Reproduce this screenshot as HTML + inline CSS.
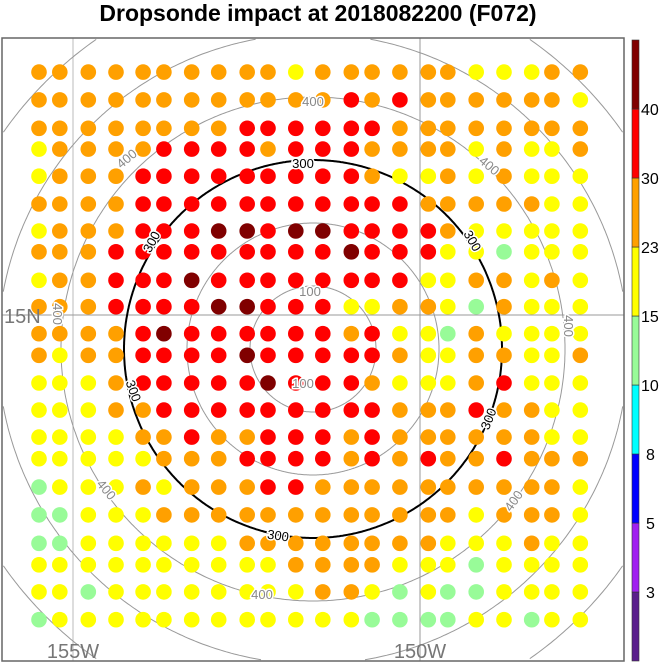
<!DOCTYPE html>
<html><head><meta charset="utf-8">
<style>
html,body{margin:0;padding:0;background:#fff;overflow:hidden;width:662px;height:664px;position:relative;}
svg{display:block;position:absolute;left:0;top:0;overflow:hidden;font-family:"Liberation Sans",sans-serif;}
</style></head>
<body>
<svg id="chart" width="662" height="664" viewBox="0 0 662 664" xmlns="http://www.w3.org/2000/svg">
<text x="318" y="21" text-anchor="middle" font-size="23" font-weight="bold" fill="#000">Dropsonde impact at 2018082200 (F072)</text>
<g id="plot">
  <line x1="73" y1="38" x2="73" y2="661" stroke="#bbb" stroke-width="1"/>
  <line x1="420" y1="38" x2="420" y2="661" stroke="#999" stroke-width="1"/>
  <line x1="2" y1="315" x2="624" y2="315" stroke="#999" stroke-width="1"/>
  <g id="rings"></g>
  <g id="dots"></g>
  <g id="labels" font-size="13" text-anchor="middle"></g>
</g>
<rect x="2" y="38" width="622" height="623" fill="none" stroke="#666" stroke-width="1.5"/>
<text x="4" y="323" font-size="20" fill="#777">15N</text>
<text x="73" y="658" font-size="20" fill="#777" text-anchor="middle">155W</text>
<text x="420" y="658" font-size="20" fill="#777" text-anchor="middle">150W</text>
<g id="colorbar"></g>
</svg>
<script>
const NS="http://www.w3.org/2000/svg";
// grid longitudes (deg E) and latitudes (deg N)
const lons=[-155.49,-155.19,-154.78,-154.38,-153.99,-153.69,-153.29,-152.90,-152.49,-152.19,-151.79,-151.40,-150.99,-150.69,-150.29,-149.88,-149.60,-149.19,-148.79,-148.39,-148.10,-147.69];
const lats=[18.50,18.10,17.69,17.39,17.00,16.60,16.21,15.91,15.50,15.12,14.73,14.42,14.02,13.63,13.24,12.93,12.52,12.12,11.71,11.40,11.01,10.61];
// impact values per row (north to south)
const row01=[26,26,26,26,26,26,26,26,26,26,19,26,26,26,26,26,26,19,19,19,26,26];
const row02=[26,26,26,26,26,26,26,26,26,26,26,26,35,26,35,26,26,26,26,26,26,19];
const row03=[26,26,26,26,26,26,26,26,35,35,35,35,35,35,26,26,26,26,26,26,26,26];
const row04=[19,26,26,26,26,35,35,35,35,26,35,35,35,26,26,26,26,19,26,19,19,26];
const row05=[19,26,26,26,35,35,35,35,35,35,35,35,35,26,19,19,26,19,26,19,19,19];
const row06=[26,26,26,26,35,35,35,35,35,35,35,35,35,35,35,26,26,26,26,26,19,19];
const row07=[19,26,26,26,35,35,35,45,45,35,45,45,35,35,35,35,26,19,19,19,19,19];
const row08=[26,26,26,35,35,35,35,35,35,35,35,35,45,35,35,35,19,19,12,19,19,19];
const row09=[19,26,26,35,35,35,45,35,35,35,35,35,35,35,35,19,19,26,26,19,26,19];
const row10=[26,26,26,35,35,35,35,45,45,35,35,35,19,19,26,26,19,12,26,19,19,19];
const row11=[26,26,26,26,35,45,35,35,35,35,35,35,26,35,19,19,12,26,19,19,19,19];
const row12=[26,19,26,26,35,35,35,35,45,35,35,35,35,35,26,19,19,26,26,19,19,26];
const row13=[19,19,19,26,35,35,35,35,35,45,35,35,35,26,19,19,19,26,35,19,19,19];
const row14=[19,19,19,26,26,35,35,35,35,35,35,35,35,35,26,26,26,35,26,26,19,19];
const row15=[19,19,19,19,26,26,35,26,26,35,35,35,26,35,26,26,26,26,26,26,19,19];
const row16=[19,19,19,19,19,26,26,26,35,35,35,35,26,35,26,35,26,26,35,26,26,26];
const row17=[12,19,19,19,26,19,26,26,26,35,35,26,26,26,26,26,26,26,26,26,26,19];
const row18=[12,12,19,19,19,26,26,26,26,26,26,26,26,26,26,26,26,19,26,26,26,19];
const row19=[12,12,19,19,19,19,19,19,26,26,26,26,26,26,26,26,19,19,19,26,19,19];
const row20=[19,19,19,19,19,19,19,19,19,19,26,26,26,26,19,19,19,12,19,19,19,19];
const row21=[19,19,12,19,19,19,19,19,19,19,19,26,26,19,12,19,12,12,19,19,19,19];
const row22=[12,19,19,19,19,19,19,19,19,19,19,19,19,12,12,12,12,19,19,12,19,19];
const values=[row01,row02,row03,row04,row05,row06,row07,row08,row09,row10,row11,row12,row13,row14,row15,row16,row17,row18,row19,row20,row21,row22];
const levels=[3,5,8,10,15,23,30,40];
const levelLabels=["3","5","8","10","15","23","30","40"];
const palette=["#5a1e8c","#a020f0","#0000ff","#00ffff","#98fb98","#ffff00","#ffa000","#ff0000","#800000"];
const ringKm=[100,200,300,400,500,600,700];

// axis functions
const xOf=lon=>73+(lon+155)*69.4;
const yOf=lat=>315-(lat-15)*69.4;
const rOf=km=>km*0.63;
const cx=313, cy=349;
const box={x0:3,y0:39,x1:623,y1:660};
function colorOf(v){let i=0;while(i<levels.length&&v>=levels[i])i++;return palette[i];}

const rings=document.getElementById('rings');
ringKm.forEach(km=>{
  const r=rOf(km);
  // build clipped arc segments inside the plot box
  const segs=[];let cur=[];
  for(let k=0;k<=720;k++){
    const a=k/720*2*Math.PI;
    const x=cx+r*Math.cos(a), y=cy+r*Math.sin(a);
    if(x>=box.x0&&x<=box.x1&&y>=box.y0&&y<=box.y1){cur.push(x.toFixed(1)+','+y.toFixed(1));}
    else if(cur.length){segs.push(cur);cur=[];}
  }
  if(cur.length){ if(segs.length&&segs[0].length&&cur.length<721){segs[0]=cur.concat(segs[0]);} else segs.push(cur);}
  segs.forEach(s=>{
    if(s.length<2)return;
    const p=document.createElementNS(NS,'polyline');
    
    
    p.setAttribute('points',s.join(' '));
    p.setAttribute('fill','none');
    p.setAttribute('stroke',km===300?'#000':'#999');
    p.setAttribute('stroke-width',km===300?2:1);
    rings.appendChild(p);
  });
});

const dots=document.getElementById('dots');
values.forEach((row,ri)=>{
  row.forEach((v,ci)=>{
    const c=document.createElementNS(NS,'circle');
    
    
    c.setAttribute('cx',xOf(lons[ci]).toFixed(1));
    c.setAttribute('cy',yOf(lats[ri]).toFixed(1));
    c.setAttribute('r',7.8);
    c.setAttribute('fill',colorOf(v));
    dots.appendChild(c);
  });
});

// contour labels
const lab=[
 ["300",303,168,0,"#000"],["300",152,246,-62,"#000"],["300",472,245,60,"#000"],
 ["300",133,395,70,"#000"],["300",489,423,-68,"#000"],["300",278,540,8,"#000"],
 ["400",313,106,0,"#888"],["400",127,163,-40,"#888"],["400",489,170,40,"#888"],
 ["400",57,318,90,"#888"],["400",568,330,90,"#888"],["400",106,494,50,"#888"],
 ["400",514,505,-55,"#888"],["400",262,599,0,"#888"],
 ["100",310,296,0,"#888"],["100",303,388,0,"#888"]
];
const lg=document.getElementById('labels');
lab.forEach(l=>{
  const t=document.createElementNS(NS,'text');
  
  
  t.setAttribute('x',l[1]);t.setAttribute('y',l[2]);
  t.setAttribute('fill',l[4]);
  t.setAttribute('stroke','#fff');t.setAttribute('stroke-width','3');
  t.setAttribute('paint-order','stroke');
  t.setAttribute('transform','rotate('+l[3]+' '+l[1]+' '+(l[2]-4)+')');
  t.textContent=l[0];
  lg.appendChild(t);
});

// colorbar
const cb=document.getElementById('colorbar');
const cbTop=40,cbBot=661,segH=(cbBot-cbTop)/palette.length;
palette.forEach((col,i)=>{
  const r=document.createElementNS(NS,'rect');
  
  
  r.setAttribute('x',632);r.setAttribute('width',7);
  r.setAttribute('y',(cbBot-(i+1)*segH).toFixed(1));
  r.setAttribute('height',segH.toFixed(1));
  r.setAttribute('fill',col);r.setAttribute('stroke','#333');r.setAttribute('stroke-width','0.6');
  cb.appendChild(r);
});
levelLabels.forEach((s,i)=>{
  const y=cbBot-(i+1)*segH;
  const t=document.createElementNS(NS,'text');
  
  
  t.setAttribute('x',s.length>1?641:646);t.setAttribute('y',(y+6).toFixed(1));
  t.setAttribute('font-size','16');t.setAttribute('fill','#000');
  t.textContent=s;
  cb.appendChild(t);
});
</script>
</body></html>
